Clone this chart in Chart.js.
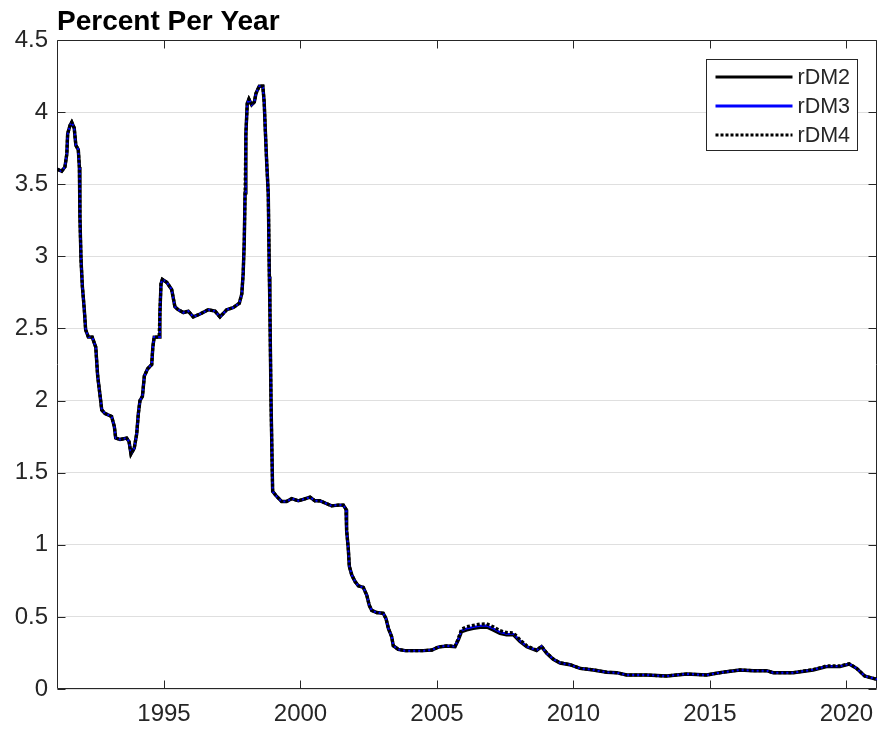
<!DOCTYPE html>
<html>
<head>
<meta charset="utf-8">
<script src="https://cdn.jsdelivr.net/npm/chart.js@4.4.1/dist/chart.umd.min.js"></script>
<style>
  html, body { margin: 0; padding: 0; background: #ffffff; }
  #wrap { width: 881px; height: 729px; }
</style>
</head>
<body>
<div id="wrap"><canvas id="c" width="881" height="729"></canvas></div>
<script>
const titleText = "Percent Per Year";
const seriesLabels = ["rDM2", "rDM3", "rDM4"];
const xTicks = [1995, 2000, 2005, 2010, 2015, 2020];
const yTicks = [0, 0.5, 1, 1.5, 2, 2.5, 3, 3.5, 4, 4.5];
const xMin = 1991.08, xMax = 2021.12;

const years = [
  1991.08, 1991.25, 1991.37, 1991.44, 1991.47, 1991.56, 1991.62, 1991.71, 1991.77, 1991.86,
  1991.90, 1991.92, 1991.96, 1992.01, 1992.08, 1992.13, 1992.23, 1992.37, 1992.50, 1992.57,
  1992.66, 1992.72, 1992.84, 1993.08, 1993.18, 1993.23, 1993.39, 1993.63, 1993.72, 1993.79,
  1993.91, 1994.00, 1994.06, 1994.12, 1994.21, 1994.28, 1994.40, 1994.55, 1994.59, 1994.64,
  1994.82, 1994.85, 1994.89, 1994.94, 1995.10, 1995.28, 1995.40, 1995.52, 1995.71, 1995.89,
  1996.07, 1996.32, 1996.62, 1996.87, 1997.05, 1997.30, 1997.54, 1997.76, 1997.85, 1997.90,
  1997.94, 1997.97, 1998.00, 1998.05, 1998.11, 1998.21, 1998.31, 1998.37, 1998.49, 1998.62,
  1998.67, 1998.71, 1998.76, 1998.82, 1998.86, 1998.88, 1998.92, 1998.98, 1999.13, 1999.31,
  1999.49, 1999.68, 1999.92, 2000.10, 2000.35, 2000.53, 2000.71, 2000.90, 2001.14, 2001.38,
  2001.57, 2001.67, 2001.69, 2001.75, 2001.79, 2001.88, 2002.00, 2002.12, 2002.30, 2002.43,
  2002.52, 2002.61, 2002.79, 2003.03, 2003.13, 2003.22, 2003.34, 2003.40, 2003.58, 2003.83,
  2004.13, 2004.50, 2004.81, 2005.05, 2005.36, 2005.66, 2005.78, 2005.90, 2006.09, 2006.33,
  2006.58, 2006.82, 2007.06, 2007.31, 2007.55, 2007.80, 2008.04, 2008.29, 2008.65, 2008.83,
  2009.02, 2009.26, 2009.51, 2009.87, 2010.24, 2010.73, 2011.22, 2011.58, 2011.95, 2012.68,
  2013.41, 2014.15, 2014.88, 2015.24, 2015.61, 2016.10, 2016.59, 2017.08, 2017.32, 2018.05,
  2018.78, 2019.27, 2019.76, 2020.10, 2020.37, 2020.67, 2020.98, 2021.12
];

const rDM2 = [
  3.605, 3.59, 3.62, 3.71, 3.85, 3.91, 3.93, 3.89, 3.77, 3.74,
  3.62, 3.275, 2.975, 2.79, 2.63, 2.49, 2.44, 2.44, 2.37, 2.17,
  2.03, 1.935, 1.91, 1.89, 1.82, 1.74, 1.73, 1.74, 1.715, 1.63,
  1.67, 1.77, 1.91, 2.0, 2.03, 2.17, 2.22, 2.25, 2.37, 2.44,
  2.44, 2.605, 2.81, 2.84, 2.82, 2.77, 2.65, 2.63, 2.61, 2.62,
  2.58, 2.60, 2.63, 2.62, 2.58, 2.63, 2.645, 2.675, 2.74, 2.88,
  3.10, 3.44, 3.85, 4.06, 4.09, 4.05, 4.07, 4.13, 4.18, 4.18,
  4.07, 3.88, 3.66, 3.43, 2.86, 2.63, 2.0, 1.37, 1.335, 1.30,
  1.30, 1.32, 1.305, 1.315, 1.33, 1.305, 1.305, 1.29, 1.27, 1.275,
  1.275, 1.245, 1.10, 0.975, 0.85, 0.79, 0.745, 0.715, 0.705, 0.65,
  0.58, 0.545, 0.53, 0.525, 0.49, 0.42, 0.363, 0.30, 0.275, 0.266,
  0.266, 0.266, 0.27, 0.29, 0.298, 0.293, 0.34, 0.397, 0.41, 0.42,
  0.428, 0.43, 0.41, 0.386, 0.375, 0.375, 0.33, 0.293, 0.266, 0.293,
  0.247, 0.206, 0.18, 0.168, 0.143, 0.132, 0.116, 0.113, 0.097, 0.097,
  0.09, 0.104, 0.097, 0.109, 0.12, 0.132, 0.127, 0.127, 0.113, 0.113,
  0.132, 0.155, 0.155, 0.173, 0.143, 0.09, 0.074, 0.067
];

const rDM3 = [
  3.605, 3.59, 3.62, 3.71, 3.85, 3.91, 3.93, 3.89, 3.77, 3.74,
  3.62, 3.275, 2.975, 2.79, 2.63, 2.49, 2.44, 2.44, 2.37, 2.17,
  2.03, 1.935, 1.91, 1.89, 1.82, 1.74, 1.73, 1.74, 1.715, 1.63,
  1.67, 1.77, 1.91, 2.0, 2.03, 2.17, 2.22, 2.25, 2.37, 2.44,
  2.44, 2.605, 2.81, 2.84, 2.82, 2.77, 2.65, 2.63, 2.61, 2.62,
  2.58, 2.60, 2.63, 2.62, 2.58, 2.63, 2.645, 2.675, 2.74, 2.88,
  3.10, 3.44, 3.85, 4.06, 4.09, 4.05, 4.07, 4.13, 4.18, 4.18,
  4.07, 3.88, 3.66, 3.43, 2.86, 2.63, 2.0, 1.37, 1.335, 1.30,
  1.30, 1.32, 1.305, 1.315, 1.33, 1.305, 1.305, 1.29, 1.27, 1.275,
  1.275, 1.245, 1.10, 0.975, 0.85, 0.79, 0.745, 0.715, 0.705, 0.65,
  0.58, 0.545, 0.53, 0.525, 0.49, 0.42, 0.363, 0.30, 0.275, 0.266,
  0.266, 0.266, 0.27, 0.291, 0.299, 0.295, 0.345, 0.405, 0.42, 0.43,
  0.438, 0.44, 0.42, 0.395, 0.383, 0.382, 0.335, 0.296, 0.268, 0.295,
  0.248, 0.207, 0.181, 0.168, 0.143, 0.132, 0.116, 0.113, 0.097, 0.097,
  0.09, 0.104, 0.097, 0.109, 0.12, 0.132, 0.127, 0.127, 0.113, 0.113,
  0.133, 0.157, 0.157, 0.174, 0.143, 0.09, 0.074, 0.067
];

const rDM4 = [
  3.605, 3.59, 3.62, 3.71, 3.85, 3.91, 3.93, 3.89, 3.77, 3.74,
  3.62, 3.275, 2.975, 2.79, 2.63, 2.49, 2.44, 2.44, 2.37, 2.17,
  2.03, 1.935, 1.91, 1.89, 1.82, 1.74, 1.73, 1.74, 1.715, 1.63,
  1.67, 1.77, 1.91, 2.0, 2.03, 2.17, 2.22, 2.25, 2.37, 2.44,
  2.44, 2.605, 2.81, 2.84, 2.82, 2.77, 2.65, 2.63, 2.61, 2.62,
  2.58, 2.60, 2.63, 2.62, 2.58, 2.63, 2.645, 2.675, 2.74, 2.88,
  3.10, 3.44, 3.85, 4.06, 4.09, 4.05, 4.07, 4.13, 4.18, 4.18,
  4.07, 3.88, 3.66, 3.43, 2.86, 2.63, 2.0, 1.37, 1.335, 1.30,
  1.30, 1.32, 1.305, 1.315, 1.33, 1.305, 1.305, 1.29, 1.27, 1.275,
  1.275, 1.245, 1.10, 0.975, 0.85, 0.79, 0.745, 0.715, 0.705, 0.65,
  0.58, 0.545, 0.53, 0.525, 0.49, 0.42, 0.363, 0.30, 0.275, 0.266,
  0.266, 0.266, 0.27, 0.292, 0.30, 0.296, 0.35, 0.415, 0.432, 0.442,
  0.45, 0.452, 0.432, 0.405, 0.392, 0.39, 0.342, 0.30, 0.27, 0.297,
  0.25, 0.208, 0.182, 0.169, 0.144, 0.133, 0.116, 0.113, 0.097, 0.097,
  0.09, 0.104, 0.097, 0.109, 0.12, 0.132, 0.127, 0.127, 0.113, 0.113,
  0.135, 0.16, 0.16, 0.175, 0.144, 0.09, 0.074, 0.067
];

const FONT = "'Liberation Sans', Arial, Helvetica, sans-serif";
const AXIS_COLOR = '#262626';

const toPts = vals => years.map((x, i) => ({ x: x, y: vals[i] }));

const framePlugin = {
  id: 'matlabFrame',
  beforeDatasetsDraw(chart) {
    const { ctx, chartArea: a, scales } = chart;
    const xs = scales.x, ys = scales.y;
    ctx.save();
    ctx.strokeStyle = AXIS_COLOR;
    ctx.lineWidth = 1;
    ctx.beginPath();
    const L = Math.round(a.left) + 0.5, R = Math.round(a.right) - 0.5;
    const T = Math.round(a.top) + 0.5, B = Math.round(a.bottom) - 0.5;
    ctx.rect(L, T, R - L, B - T);
    const tl = 8;
    xs.ticks.forEach(t => {
      const px = Math.round(xs.getPixelForValue(t.value)) + 0.5;
      ctx.moveTo(px, B); ctx.lineTo(px, B - tl);
      ctx.moveTo(px, T); ctx.lineTo(px, T + tl);
    });
    ys.ticks.forEach(t => {
      const py = Math.round(ys.getPixelForValue(t.value)) + 0.5;
      ctx.moveTo(L, py); ctx.lineTo(L + tl, py);
      ctx.moveTo(R, py); ctx.lineTo(R - tl, py);
    });
    ctx.stroke();
    ctx.restore();
  }
};

const legendPlugin = {
  id: 'insideLegend',
  afterDraw(chart) {
    const { ctx, chartArea: a } = chart;
    const bw = 151, bh = 91;
    const bx = Math.round(a.right) - 20 - bw + 0.5;
    const by = Math.round(a.top) + 19 + 0.5;
    ctx.save();
    ctx.fillStyle = '#ffffff';
    ctx.fillRect(bx, by, bw, bh);
    ctx.strokeStyle = AXIS_COLOR;
    ctx.lineWidth = 1;
    ctx.strokeRect(bx, by, bw, bh);
    const rows = [17, 46, 75];
    chart.data.datasets.forEach((ds, i) => {
      const cy = Math.round(by + rows[i]);
      ctx.beginPath();
      ctx.strokeStyle = ds.borderColor;
      ctx.lineWidth = 3;
      ctx.setLineDash(ds.borderDash && ds.borderDash.length ? [3, 2] : []);
      ctx.moveTo(bx + 9, cy);
      ctx.lineTo(bx + 86, cy);
      ctx.stroke();
      ctx.setLineDash([]);
      ctx.fillStyle = AXIS_COLOR;
      ctx.font = "21.5px " + FONT;
      ctx.textAlign = 'left';
      ctx.textBaseline = 'middle';
      ctx.fillText(ds.label, bx + 91, cy + 1);
    });
    ctx.restore();
  }
};

new Chart(document.getElementById('c'), {
  type: 'line',
  data: {
    datasets: [
      { label: seriesLabels[0], data: toPts(rDM2), borderColor: '#000000', borderWidth: 3.4,
        pointRadius: 0, tension: 0, fill: false, order: 3 },
      { label: seriesLabels[1], data: toPts(rDM3), borderColor: '#0000ff', borderWidth: 2,
        pointRadius: 0, tension: 0, fill: false, order: 2 },
      { label: seriesLabels[2], data: toPts(rDM4), borderColor: '#000000', borderWidth: 3.2,
        borderDash: [3, 2], pointRadius: 0, tension: 0, fill: false, order: 1 }
    ]
  },
  options: {
    responsive: false,
    animation: false,
    layout: { padding: { left: 0, right: 4, top: 0, bottom: 0 } },
    plugins: {
      legend: { display: false },
      tooltip: { enabled: false },
      title: {
        display: true, text: titleText, align: 'start', fullSize: false,
        color: '#000000',
        font: { family: FONT, size: 28, weight: 'bold', lineHeight: 1.2 },
        padding: { top: 5, bottom: 1.4 }
      }
    },
    scales: {
      x: {
        type: 'linear', min: xMin, max: xMax,
        grid: { display: false, drawTicks: false },
        border: { display: false },
        ticks: {
          color: AXIS_COLOR, padding: 11, maxRotation: 0, autoSkip: false,
          font: { family: FONT, size: 24 },
          callback: v => String(v)
        },
        afterBuildTicks: s => { s.ticks = xTicks.map(v => ({ value: v })); },
        afterFit: s => { s.height = 40; s.paddingLeft = 0; s.paddingRight = 0; }
      },
      y: {
        type: 'linear', min: 0, max: 4.5,
        grid: { color: '#dfdfdf', lineWidth: 1, drawTicks: false },
        border: { display: false },
        ticks: {
          color: AXIS_COLOR, padding: 9, autoSkip: false,
          font: { family: FONT, size: 24 },
          callback: v => String(v)
        },
        afterBuildTicks: s => { s.ticks = yTicks.map(v => ({ value: v })); },
        afterFit: s => { s.width = 57; }
      }
    }
  },
  plugins: [framePlugin, legendPlugin]
});
</script>
</body>
</html>
